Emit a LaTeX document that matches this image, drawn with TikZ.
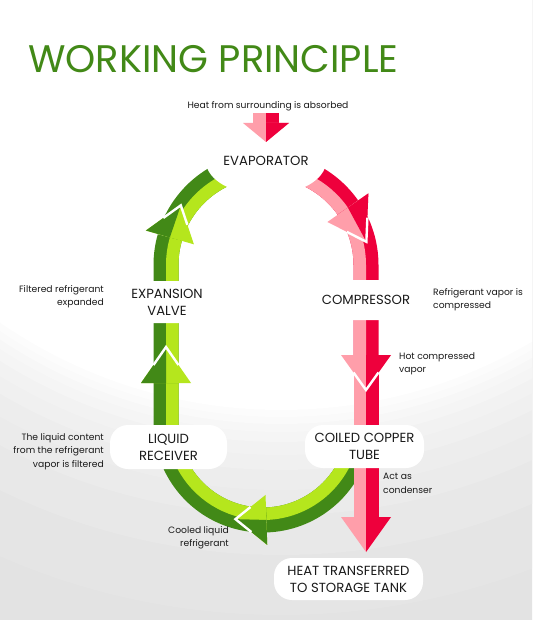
\documentclass[tikz,border=0pt]{standalone}
\usepackage{fontspec}
\setmainfont{Poppins}
\usetikzlibrary{calc, shapes.geometric}
\definecolor{cdgreen}{HTML}{428917}
\definecolor{clgreen}{HTML}{B5E61D}
\definecolor{cred}{HTML}{EE003C}
\definecolor{cpink}{HTML}{FF9EAA}
\definecolor{ctext}{HTML}{1A1A1A}
\newcommand{\stagefont}{\fontsize{13.2}{17}\selectfont}
\newcommand{\notefont}{\fontsize{9.2}{13.5}\selectfont}
% two-tone band: dark outer half, light inner half (\dd is the offset)
\newcommand{\duo}[3]{%
  \def\dd{0}\draw[line width=25pt, #1] #3;
  \def\dd{-6.25}\draw[line width=12.5pt, #2] #3;}
% two-tone head: base, tip, outer wing, inner wing, dark, light
\newcommand{\duohead}[6]{%
  \fill[#6] (#3) -- (#2) -- (#4) -- cycle;
  \fill[#5] (#1) -- (#3) -- (#2) -- cycle;}
\newcommand{\notch}[3]{\draw[notchline] ($(#2)!0.5!(#1)$) -- (#1) -- ($(#3)!0.5!(#1)$);}
\tikzset{
  notchline/.style={white, line width=2.4pt, line join=miter},
  title/.style={font=\fontsize{38.4}{44}\selectfont, text=cdgreen, inner sep=0pt},
  blob/.style={ellipse, fill=white, minimum width=116pt, minimum height=68pt, inner sep=0pt, font=\stagefont, text=ctext},
  stage/.style={fill=white, rounded corners=18pt, align=center, inner sep=0pt, font=\stagefont, text=ctext},
  note/.style={font=\notefont, text=ctext, inner sep=0pt},
}

\begin{document}
\begin{tikzpicture}[x=1pt, y=-1pt]
  \useasboundingbox (0,0) rectangle (532,620);
  % soft grey backdrop with a white glow at the top
  \begin{scope}
    \clip (0,0) rectangle (532,620);
    \foreach \rad/\gr in {800/11, 700/10, 640/9, 600/8, 575/7, 555/6, 540/5, 527/4, 517/3, 509/2, 502/1, 495/0}
      \fill[black!\gr] (281,-85) circle (\rad);
  \end{scope}

  \coordinate (C1) at (266,265);
  \coordinate (C2) at (263,423);

  % heads of the cycle
  \coordinate (r1b) at ($(C1)+(-35:100)$);
  \coordinate (r1t) at ($(C1)+(-13:103)$);
  \coordinate (r1o) at ($(C1)+(-35:125)$);
  \coordinate (r1i) at ($(C1)+(-35:75)$);
  \coordinate (r2b) at (366,355);
  \coordinate (r2t) at (366,390);
  \coordinate (r2o) at (391,355);
  \coordinate (r2i) at (341,355);
  \coordinate (r3b) at (366,517);
  \coordinate (r3t) at (366,552);
  \coordinate (r3o) at (391,517);
  \coordinate (r3i) at (341,517);
  \coordinate (g1b) at ($(C2)+(88:97)$);
  \coordinate (g1t) at ($(C2)+(106:100)$);
  \coordinate (g1o) at ($(C2)+(88:122)$);
  \coordinate (g1i) at ($(C2)+(88:72)$);
  \coordinate (g2b) at (166,383);
  \coordinate (g2t) at (166,347);
  \coordinate (g2o) at (141,383);
  \coordinate (g2i) at (191,383);
  \coordinate (g3b) at ($(C1)+(196:100)$);
  \coordinate (g3t) at ($(C1)+(215:104)$);
  \coordinate (g3o) at ($(C1)+(196:125)$);
  \coordinate (g3i) at ($(C1)+(196:75)$);

  % bands
  \duo{cdgreen}{clgreen}{($(C1)+(196:100+\dd)$) arc[start angle=196, end angle=272, radius=100+\dd]}
  \duo{cred}{cpink}{($(C1)+(-92:100+\dd)$) arc[start angle=-92, end angle=-35, radius=100+\dd]}
  \duo{cred}{cpink}{($(C1)+(-35:100+\dd)$) arc[start angle=-35, end angle=0, radius=100+\dd] -- ++(0,90)}
  \duo{cdgreen}{clgreen}{($(C2)+(15:97+\dd)$) arc[start angle=15, end angle=88, radius=97+\dd]}
  \duo{cdgreen}{clgreen}{($(C2)+(88:97+\dd)$) arc[start angle=88, end angle=180, radius=97+\dd] -- ++(0,-40)}
  \duo{cdgreen}{clgreen}{({166-\dd},383) -- ({166-\dd},265) arc[start angle=180, end angle=196, radius=100+\dd]}
  \duo{cred}{cpink}{({366+\dd},355) -- ({366+\dd},517)}

  % heads
  \duohead{r1b}{r1t}{r1o}{r1i}{cred}{cpink}   \notch{r1t}{r1o}{r1i}
  \duohead{r2b}{r2t}{r2o}{r2i}{cred}{cpink}   \notch{r2t}{r2o}{r2i}
  \duohead{r3b}{r3t}{r3o}{r3i}{cred}{cpink}
  \duohead{g1b}{g1t}{g1o}{g1i}{cdgreen}{clgreen} \notch{g1t}{g1o}{g1i}
  \duohead{g2b}{g2t}{g2o}{g2i}{cdgreen}{clgreen} \notch{g2t}{g2o}{g2i}
  \duohead{g3b}{g3t}{g3o}{g3i}{cdgreen}{clgreen} \notch{g3t}{g3o}{g3i}

  % stages
  \node[blob] (evap) at (266,161) {EVAPORATOR};
  \node[stage, minimum width=92pt, minimum height=42pt] (expv) at (167,302) {EXPANSION\\VALVE};
  \node[stage, minimum width=104pt, minimum height=40pt] (comp) at (366,300) {COMPRESSOR};
  \node[stage, minimum width=117pt, minimum height=44pt] (liqr) at (168.5,447) {LIQUID\\RECEIVER};
  \node[stage, minimum width=119pt, minimum height=43pt] (coil) at (364.5,446.5) {COILED COPPER\\TUBE};
  \node[stage, minimum width=149pt, minimum height=42pt] (tank) at (348.5,579) {HEAT TRANSFERRED\\TO STORAGE TANK};

  % heat taken in
  \coordinate (hb) at (266,123);
  \coordinate (ht) at (266,142);
  \coordinate (ho) at (289,123);
  \coordinate (hi) at (243,123);
  \fill[cpink] (253,113) rectangle (266,123);
  \fill[cred] (266,113) rectangle (279,123);
  \duohead{hb}{ht}{ho}{hi}{cred}{cpink}

  \node[title, anchor=base west] (ttl) at (28,73) {WORKING PRINCIPLE};
  \node[note, anchor=base] (heatin) at (268,109) {Heat from surrounding is absorbed};
  \node[note, anchor=north east, align=right] (expnote) at (104,285) {Filtered refrigerant\\expanded};
  \node[note, anchor=north west, align=left] (compnote) at (433,288) {Refrigerant vapor is\\compressed};
  \node[note, anchor=north west, align=left] (hotnote) at (399,352) {Hot compressed\\vapor};
  \node[note, anchor=north east, align=right] (liqnote) at (104,433) {The liquid content\\from the refrigerant\\vapor is filtered};
  \node[note, anchor=north west, align=left] (condnote) at (383,473) {Act as\\condenser};
  \node[note, anchor=north east, align=right] (coolnote) at (229,526) {Cooled liquid\\refrigerant};
\end{tikzpicture}
\end{document}
